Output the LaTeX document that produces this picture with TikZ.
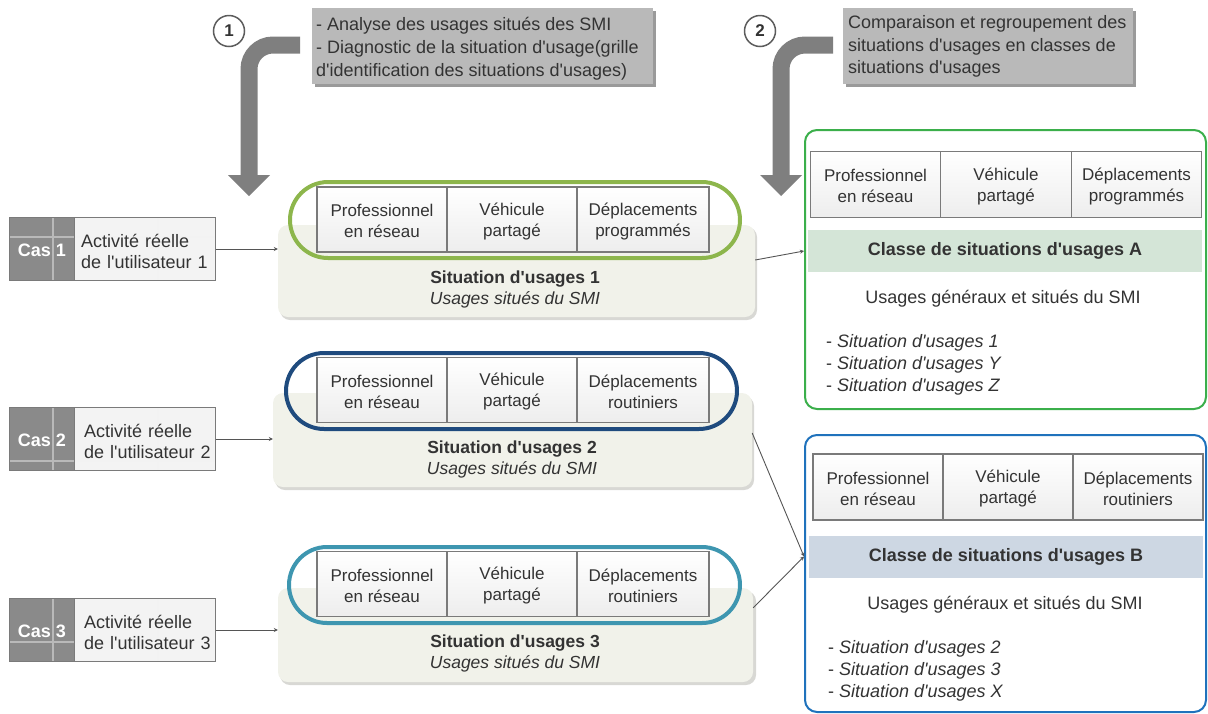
\documentclass[tikz,border=0pt]{standalone}
\usepackage{fontspec}
\setmainfont{Liberation Sans}[Ligatures=TeXOff]
\usetikzlibrary{calc,arrows.meta}
\definecolor{txt}{HTML}{333333}
\definecolor{cellborder}{HTML}{7A7A7A}
\definecolor{backfill}{HTML}{F1F2EA}
\definecolor{backshadow}{HTML}{D8D8D4}
\definecolor{sgreen}{HTML}{8DB64C}
\definecolor{sblue}{HTML}{1F4B7E}
\definecolor{steal}{HTML}{3E96B0}
\definecolor{cgreen}{HTML}{3BAF4B}
\definecolor{cblue}{HTML}{1F72BC}
\definecolor{hgreen}{HTML}{D4E5D7}
\definecolor{hblue}{HTML}{CDD7E3}
\definecolor{notefill}{HTML}{B9B9B9}
\definecolor{noteshadow}{HTML}{9A9A9A}
\definecolor{arrowgray}{HTML}{7F7F7F}
\definecolor{casdark}{HTML}{8A8A8A}
\definecolor{caslight}{HTML}{F3F3F3}
\definecolor{connector}{HTML}{555555}
\tikzset{
  x=1pt, y=-1pt,
  every node/.style={text=txt, font=\fontsize{17.5}{21}\selectfont},
  celltext/.style={align=center, inner sep=0pt, yshift=-1.5pt, text=txt, font=\fontsize{17}{21}\selectfont},
  cell/.style={draw=cellborder, line width=1.2pt, top color=white, bottom color=gray!14,
    minimum width=130pt, minimum height=65pt, inner sep=0pt, label={[celltext]center:{#1}}},
  backbox/.style={fill=backfill, rounded corners=10pt, inner sep=0pt},
  stadium/.style={line width=4pt, rounded corners=38pt},
  note/.style={fill=notefill, align=left, anchor=north west, inner sep=0pt, font=\fontsize{18}{23}\selectfont},
  numcirc/.style={circle, draw=txt!80, line width=1.5pt, fill=white, minimum size=31pt, inner sep=0pt, font=\bfseries\fontsize{17}{20}\selectfont},
  bigarrow/.style={draw=arrowgray, line width=17pt, rounded corners=24pt},
  caslabel/.style={fill=casdark, minimum width=64pt, minimum height=62pt, inner sep=0pt},
  castext/.style={fill=caslight, minimum width=141pt, minimum height=62pt, inner sep=0pt},
  caslabeltext/.style={inner sep=0pt, text=white, font=\bfseries\fontsize{18}{21}\selectfont},
  castexttext/.style={inner sep=0pt, text width=129pt, align=left, font=\fontsize{18}{21}\selectfont},
  conn/.style={draw=connector, line width=0.9pt, -{Stealth[length=4pt,width=4pt]}},
  classbox/.style={line width=2pt, rounded corners=12pt, fill=white, inner sep=0pt},
  header/.style={minimum width=394pt, minimum height=42pt, inner sep=0pt, font=\bfseries\fontsize{18}{21}\selectfont},
}
\begin{document}
\begin{tikzpicture}
\useasboundingbox (0,0) rectangle (1208,713);

% ---------- Notes and bent arrows ----------
\fill[noteshadow] (315,11) rectangle (656,87);
\node[note, minimum width=341pt, minimum height=76pt] (n1) at (312,8) {};
\node[anchor=north west, align=left, inner sep=0pt, font=\fontsize{18}{23}\selectfont] (n1t) at (316,17)
  {- Analyse des usages situés des SMI\\- Diagnostic de la situation d'usage(grille\\d'identification des situations d'usages)};
\fill[noteshadow] (846,11) rectangle (1136,87);
\node[note, minimum width=290pt, minimum height=76pt] (n2) at (843,8) {};
\node[anchor=north west, align=left, inner sep=0pt, font=\fontsize{18}{22.5}\selectfont] (n2t) at (848,15.5)
  {Comparaison et regroupement des\\situations d'usages en classes de\\situations d'usages};

\node[numcirc] (k1) at (229,31) {1};
\node[numcirc] (k2) at (760,31) {2};

\coordinate (a1s) at (300,45);
\coordinate (a1c) at (249,45);
\coordinate (a1e) at (249,176);
\draw[bigarrow] (a1s) -- (a1c) -- (a1e);
\fill[arrowgray] (228,175) -- (270,175) -- (249,196) -- cycle;

\coordinate (a2s) at (833,45);
\coordinate (a2c) at (781,45);
\coordinate (a2e) at (781,176);
\draw[bigarrow] (a2s) -- (a2c) -- (a2e);
\fill[arrowgray] (760,175) -- (802,175) -- (781,196) -- cycle;

% ---------- Situations ----------
% Situation 1
\fill[backshadow, rounded corners=10pt] (280,227) rectangle (757,320);
\node[backbox, minimum width=477pt, minimum height=92pt] (s1) at (516.5,271) {};
\draw[stadium, sgreen] (290,182) rectangle (740,258);
\node[cell={Professionnel\\en réseau}] (s1a) at (382,219.5) {};
\node[cell={Véhicule\\partagé}] (s1b) at (512,219.5) {};
\node[cell={Déplacements\\programmés}, minimum width=132pt] (s1c) at (643,219.5) {};
\node[align=center, inner sep=0pt] (s1t) at (515,289) {\textbf{Situation d'usages 1}\\\textit{Usages situés du SMI}};

% Situation 2
\fill[backshadow, rounded corners=10pt] (275,396) rectangle (754,490);
\node[backbox, minimum width=479pt, minimum height=94pt] (s2) at (512.5,440) {};
\draw[stadium, sblue] (286,353) rectangle (737,429);
\node[cell={Professionnel\\en réseau}] (s2a) at (382,390) {};
\node[cell={Véhicule\\partagé}] (s2b) at (512,390) {};
\node[cell={Déplacements\\routiniers}, minimum width=132pt] (s2c) at (643,390) {};
\node[align=center, inner sep=0pt] (s2t) at (512,459.5) {\textbf{Situation d'usages 2}\\\textit{Usages situés du SMI}};

% Situation 3
\fill[backshadow, rounded corners=10pt] (280,591) rectangle (756,685);
\node[backbox, minimum width=475pt, minimum height=94pt] (s3) at (515.5,635) {};
\draw[stadium, steal] (289,547) rectangle (740,623);
\node[cell={Professionnel\\en réseau}] (s3a) at (382,584) {};
\node[cell={Véhicule\\partagé}] (s3b) at (512,584) {};
\node[cell={Déplacements\\routiniers}, minimum width=132pt] (s3c) at (643,584) {};
\node[align=center, inner sep=0pt] (s3t) at (515,653) {\textbf{Situation d'usages 3}\\\textit{Usages situés du SMI}};

% ---------- Cas ----------
\foreach \i/\y/\hl/\tx in {1/249/237/81, 2/439/461/84, 3/630/642/84} {
  \node[caslabel] (cl\i) at (42,\y) {};
  \node[castext, anchor=west] (ct\i) at (cl\i.east) {};
  \draw[gray!55, line width=1.5pt] ([xshift=11pt]cl\i.north) -- ([xshift=11pt]cl\i.south);
  \draw[gray!55, line width=1.5pt] (cl\i.west |- 0,\hl) -- (cl\i.east |- 0,\hl);
  \draw[gray!10, line width=2pt] (ct\i.west |- 0,\hl) -- (ct\i.east |- 0,\hl);
  \draw[gray!10, line width=2pt] ([xshift=84pt]ct\i.north west) -- ([xshift=84pt]ct\i.south west);
  \draw[cellborder, line width=1.2pt] (cl\i.north west) rectangle (ct\i.south east);
  \draw[cellborder, line width=1.2pt] (cl\i.north east) -- (cl\i.south east);
  \node[caslabeltext] (clt\i) at (42,\y+1) {Cas \i};
  \node[castexttext, anchor=west] (ctt\i) at (\tx,\y+2) {Activité réelle\\de l'utilisateur \i};
}
\draw[conn] (ct1.east) -- (ct1.east -| s1.west);
\draw[conn] (ct2.east) -- (ct2.east -| s2.west);
\draw[conn] (ct3.east) -- (ct3.east -| s3.west);

% ---------- Class A ----------
\node[classbox, draw=cgreen, minimum width=401pt, minimum height=279pt] (cA) at (1005.5,269.5) {};
\node[cell={Professionnel\\en réseau}, minimum width=130.5pt, minimum height=66pt] (cAa) at (875.5,184.5) {};
\node[cell={Véhicule\\partagé}, minimum width=130.5pt, minimum height=66pt] (cAb) at (1006,184.5) {};
\node[cell={Déplacements\\programmés}, minimum width=130.5pt, minimum height=66pt] (cAc) at (1136.5,184.5) {};
\node[header, fill=hgreen] (hA) at (1005,251) {\raisebox{-1pt}{Classe de situations d'usages A}};
\node[font=\fontsize{18}{21}\selectfont, inner sep=0pt] (uA) at (1003,299) {Usages généraux et situés du SMI};
\node[anchor=west, align=left, inner sep=0pt, font=\fontsize{18}{22}\selectfont] (lA) at (826,365)
  {- \textit{Situation d'usages 1}\\- \textit{Situation d'usages Y}\\- \textit{Situation d'usages Z}};

% ---------- Class B ----------
\node[classbox, draw=cblue, minimum width=401pt, minimum height=277pt] (cB) at (1005.5,573.5) {};
\node[cell={Professionnel\\en réseau}, minimum width=130pt, minimum height=66pt] (cBa) at (878,487) {};
\node[cell={Véhicule\\partagé}, minimum width=130pt, minimum height=66pt] (cBb) at (1008,487) {};
\node[cell={Déplacements\\routiniers}, minimum width=130pt, minimum height=66pt] (cBc) at (1138,487) {};
\node[header, fill=hblue] (hB) at (1006,556.5) {Classe de situations d'usages B};
\node[font=\fontsize{18}{21}\selectfont, inner sep=0pt] (uB) at (1005,605) {Usages généraux et situés du SMI};
\node[anchor=west, align=left, inner sep=0pt, font=\fontsize{18}{22}\selectfont] (lB) at (828,671)
  {- \textit{Situation d'usages 2}\\- \textit{Situation d'usages 3}\\- \textit{Situation d'usages X}};

% ---------- Connectors to classes ----------
\draw[conn] ([yshift=11pt]s1.east) -- (cA.west |- hA);
\draw[conn] ([yshift=7pt]s2.east) -- (cB.west |- hB);
\draw[conn] ([yshift=-20pt]s3.north east) -- (cB.west |- hB);
\end{tikzpicture}
\end{document}
